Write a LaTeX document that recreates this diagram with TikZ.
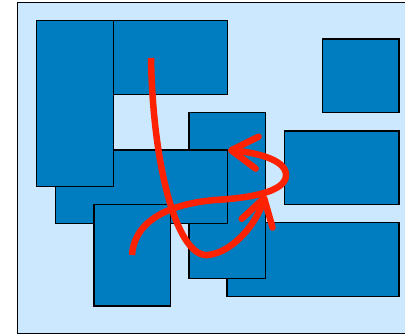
\documentclass[tikz,border=0pt]{standalone}
\usepackage{xcolor}
\usepackage{tikz}
\usetikzlibrary{arrows.meta,positioning,calc}
\definecolor{sfondo}{RGB}{204,232,255}
\definecolor{bluscuro}{RGB}{0,125,192}
\definecolor{rosso}{RGB}{255,34,0}

\begin{document}
\begin{tikzpicture}[x=1pt,y=-1pt,
  blocco/.style={fill=bluscuro,draw=black,line width=1.3pt},
  freccia/.style={draw=rosso,line width=6.5pt,-{Straight Barb[length=26pt,width=32pt,round]}}]
  \useasboundingbox (0,0) rectangle (405,335);
  \clip (0,0) rectangle (405,335);
  % cornice
  \draw[fill=sfondo,line width=1.6pt] (17.3,2.3) rectangle (420,333.3);
  % rettangoli, dal fondo in su
  \foreach \xa/\ya/\xb/\yb in {227/222.7/399/296.7, 189/112.7/265.7/278.3,
      55.7/150/227.7/223.3, 94/204.7/170.7/306, 113.3/20.7/227.7/94.7,
      36.7/20.7/113.3/186.7, 284.3/131/399/204.7, 322.3/39/399/112.7}
    \draw[blocco] (\xa,\ya) rectangle (\xb,\yb);
  % percorsi
  \coordinate (a0) at (151,58);
  \coordinate (a1) at (208,255);
  \coordinate (a2) at (265,195);
  \coordinate (b0) at (132,255);
  \coordinate (b1) at (215,200);
  \coordinate (b2) at (286,175);
  \coordinate (b3) at (228,150);
  \draw[freccia] (b0) .. controls (135,215) and (180,203) .. (b1)
    .. controls (250,198) and (286,192) .. (b2)
    .. controls (286,158) and (250,152) .. (b3);
  \draw[freccia] (a0) .. controls (153,170) and (178,258) .. (a1)
    .. controls (235,252) and (258,220) .. (a2);
\end{tikzpicture}
\end{document}
